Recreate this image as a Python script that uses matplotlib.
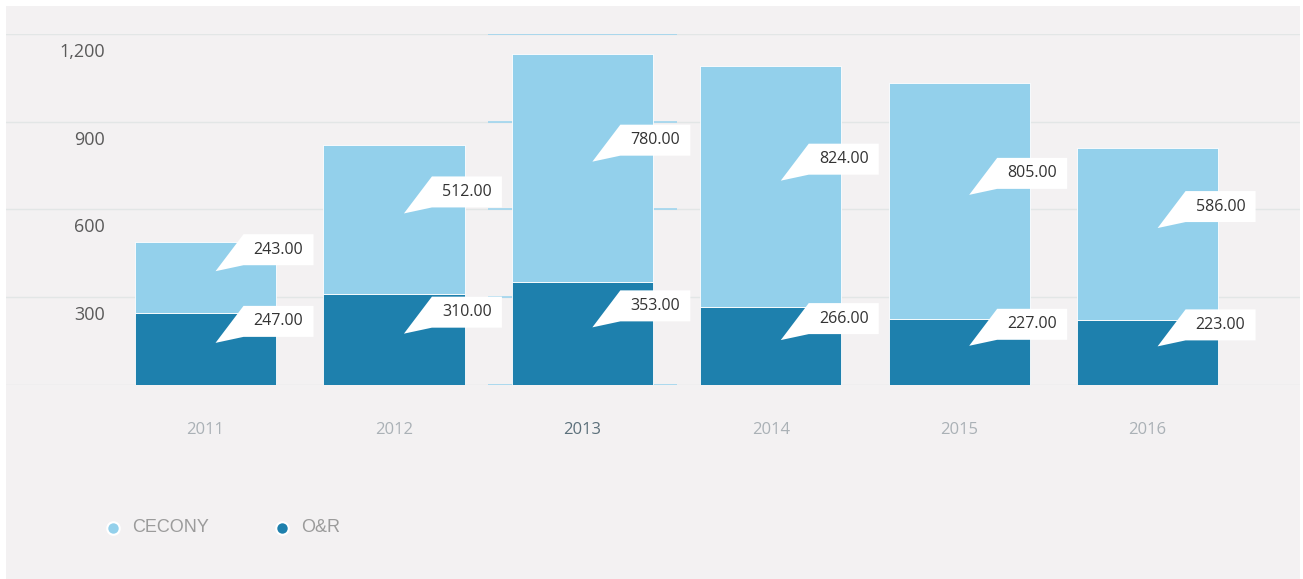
import matplotlib
matplotlib.use("Agg")
import matplotlib.pyplot as plt
from matplotlib import transforms as mtrans
from matplotlib.patches import Polygon, Rectangle
from matplotlib.lines import Line2D

years = ["2011", "2012", "2013", "2014", "2015", "2016"]
o_and_r = [247, 310, 353, 266, 227, 223]
ceconys = [243, 512, 780, 824, 805, 586]
y_ticks = [300, 600, 900, 1200]
y_tick_labels = ["300", "600", "900", "1,200"]
series_names = ["CECONY", "O&R"]
highlight_year = "2013"

LIGHT = "#93d0eb"
DARK = "#1e80ad"
PANEL = "#f3f1f2"
GRID = "#e2e6e6"

W, H, DPI = 1303, 579, 100
fig = plt.figure(figsize=(W / DPI, H / DPI), dpi=DPI)
fig.patch.set_facecolor("white")

# panel background
fig.add_artist(Rectangle((6 / W, 0), 1294 / W, 573 / H, transform=fig.transFigure,
                         facecolor=PANEL, edgecolor="none", zorder=-10))

ax = fig.add_axes([6 / W, (H - 385) / H, 1294 / W, 351 / H])
ax.set_facecolor("none")
for s in ax.spines.values():
    s.set_visible(False)
ax.set_xlim(-1.0589, 5.809)
ax.set_ylim(0, 1200)
ax.set_xticks([])
ax.set_yticks([])

# horizontal grid lines
for v in [0] + y_ticks:
    ax.axhline(v, color=GRID, lw=1.0, zorder=0)

# hover band for the highlighted category
hi = years.index(highlight_year)
for v in [0] + y_ticks:
    ax.hlines(v, hi - 0.5, hi + 0.5, color="#9fd5ee", lw=1.2, zorder=0.5)

x = list(range(len(years)))
ax.bar(x, o_and_r, width=0.75, color=DARK, edgecolor="white", linewidth=0.6, zorder=2)
ax.bar(x, ceconys, width=0.75, bottom=o_and_r, color=LIGHT, edgecolor="white",
       linewidth=0.6, zorder=2)

# y tick labels sit just below their grid lines
ylab_tr = mtrans.offset_copy(
    mtrans.blended_transform_factory(fig.transFigure, ax.transData),
    fig=fig, x=0, y=-18, units="dots")
for v, lab in zip(y_ticks, y_tick_labels):
    ax.text(105 / W, v, lab, transform=ylab_tr, ha="right", va="center",
            fontsize=13, color="#5a5a5a", family="Open Sans", clip_on=False)

# category labels
xlab_tr = mtrans.offset_copy(ax.transData, fig=fig, x=0, y=-45, units="dots")
for i, yr in enumerate(years):
    hl = yr == highlight_year
    ax.text(i, 0, yr, transform=xlab_tr, ha="center", va="center", fontsize=12,
            color="#5c707b" if hl else "#aab1b6", family="Open Sans", clip_on=False)

# callout labels with a pointer towards the segment
callout = [(0, 0), (28, 6), (98, 6), (98, 37), (28, 37)]


def draw_callout(xi, yv, value):
    tr = mtrans.Affine2D().translate(10, 6) + mtrans.ScaledTranslation(xi, yv, ax.transData)
    ax.add_patch(Polygon(callout, closed=True, transform=tr, facecolor="white",
                         edgecolor="none", zorder=4, clip_on=False))
    ax.text(63, 21.5, f"{value:.2f}", transform=tr, ha="center", va="center",
            fontsize=11.5, color="#333333", family="Open Sans", zorder=5, clip_on=False)


for i in x:
    draw_callout(i, o_and_r[i] / 2, o_and_r[i])
    draw_callout(i, o_and_r[i] + ceconys[i] / 2, ceconys[i])

# legend
for name, col, mx in zip(series_names, [LIGHT, DARK], [113, 282]):
    fig.add_artist(Line2D([mx / W], [(H - 528) / H], transform=fig.transFigure,
                          marker="o", markersize=9, markerfacecolor=col,
                          markeredgecolor="white", markeredgewidth=1.5, linestyle="none"))
    fig.text((mx + 19) / W, (H - 528) / H, name, ha="left", va="center", fontsize=13,
             color="#9b9b9b", family="Liberation Sans")

fig.savefig("out.png", dpi=DPI, facecolor=fig.get_facecolor())
